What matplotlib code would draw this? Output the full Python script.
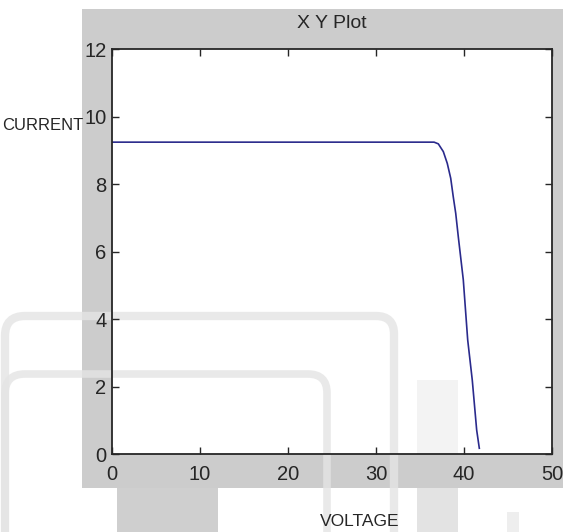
import matplotlib
matplotlib.use('Agg')
import matplotlib.pyplot as plt
from matplotlib.patches import Rectangle, PathPatch
from matplotlib.path import Path

# I-V curve of a PV module
voltage = [0.0, 36.6, 37.08, 37.65, 38.10, 38.49, 38.78, 39.06, 39.35,
           39.92, 40.42, 40.94, 41.44, 41.74]
current = [9.24, 9.24, 9.19, 8.96, 8.61, 8.17, 7.62, 7.13, 6.44,
           5.16, 3.38, 2.19, 0.71, 0.17]

x_ticks = [0, 10, 20, 30, 40, 50]
y_ticks = [0, 2, 4, 6, 8, 10, 12]

W, H = 568, 532
FONT = ['Liberation Sans', 'DejaVu Sans']
PANEL = '#cccccc'
LINE = '#2a2a8c'
INK = '#262626'

fig = plt.figure(figsize=(W / 100, H / 100), dpi=100)
fig.patch.set_facecolor('white')

# --- background layer in pixel coords (panel + faint watermark) ---
bg = fig.add_axes([0, 0, 1, 1], zorder=0)
bg.set_xlim(0, W)
bg.set_ylim(H, 0)
bg.axis('off')

bg.add_patch(Rectangle((82, 9), 481, 479, facecolor=PANEL, edgecolor='none'))
bg.add_patch(Rectangle((112, 49), 440, 405, facecolor='white', edgecolor='none'))
bg.add_patch(Rectangle((117, 488), 101, 44, facecolor='#cfcfcf', edgecolor='none'))
bg.add_patch(Rectangle((417, 380), 41, 74, facecolor='#f3f3f3', edgecolor='none'))
bg.add_patch(Rectangle((417, 488), 41, 44, facecolor='#e3e3e3', edgecolor='none'))
bg.add_patch(Rectangle((507, 512), 12, 20, facecolor='#eeeeee', edgecolor='none'))

codes = [Path.MOVETO, Path.LINETO, Path.CURVE3, Path.CURVE3, Path.LINETO,
         Path.CURVE3, Path.CURVE3, Path.LINETO]
outer = [(5, 532), (5, 336), (5, 316), (25, 316), (376, 316),
         (394, 316), (394, 334), (394, 532)]
inner = [(5, 532), (5, 394), (5, 374), (25, 374), (308, 374),
         (327, 374), (327, 393), (327, 532)]
for pts, lw in [(outer, 6.0), (inner, 5.5)]:
    bg.add_patch(PathPatch(Path(pts, codes), facecolor='none',
                           edgecolor='#e4e4e4', lw=lw, alpha=0.8))

# --- main axes ---
ax = fig.add_axes([112 / W, 1 - 454 / H, 440 / W, 405 / H], zorder=1)
ax.set_facecolor('none')
ax.plot(voltage, current, color=LINE, lw=1.2)
ax.set_xlim(0, 50)
ax.set_ylim(0, 12)
ax.set_xticks(x_ticks)
ax.set_yticks(y_ticks)
ax.tick_params(direction='in', length=5, width=1, top=True, right=True,
               labelsize=14.5, labelcolor=INK, color=INK)
ax.tick_params(axis='x', pad=8)
ax.tick_params(axis='y', pad=4)
for lab in ax.get_xticklabels() + ax.get_yticklabels():
    lab.set_family(FONT)
for sp in ax.spines.values():
    sp.set_color(INK)
    sp.set_linewidth(1.3)

fig.text(332 / W, 1 - 24 / H, 'X Y Plot', ha='center', va='center',
         fontsize=14, color=INK, family=FONT)
fig.text(2 / W, 1 - 126 / H, 'CURRENT', ha='left', va='center',
         fontsize=12, color=INK, family=FONT)
fig.text(360 / W, 1 - 521 / H, 'VOLTAGE', ha='center', va='center',
         fontsize=12.5, color=INK, family=FONT)

fig.savefig('out.png', dpi=100, facecolor='white')
